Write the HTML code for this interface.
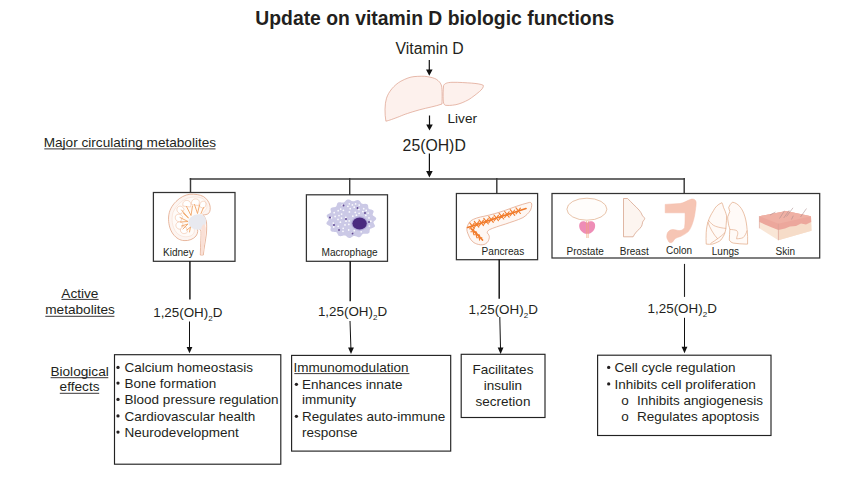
<!DOCTYPE html>
<html><head><meta charset="utf-8">
<style>
html,body{margin:0;padding:0;background:#fff;width:841px;height:477px;overflow:hidden}
svg{position:absolute;left:0;top:0;display:block}
text{font-family:"Liberation Sans",sans-serif;fill:#231f20}
.b{font-weight:bold}
</style></head><body>
<svg width="841" height="477" viewBox="0 0 841 477">
<!-- title -->
<text class="b" x="255.3" y="24.9" font-size="19.35">Update on vitamin D biologic functions</text>
<text x="395.6" y="53.6" font-size="15.8">Vitamin D</text>
<text x="447.5" y="122.6" font-size="13.6">Liver</text>
<text x="402.6" y="150.7" font-size="15.8">25(OH)D</text>
<text x="43.7" y="147.1" font-size="13.62">Major circulating metabolites</text><line x1="44.3" y1="148.9" x2="215.5" y2="148.9" stroke="#231f20" stroke-width="0.9"/>

<!-- top arrows -->
<g stroke="#111" stroke-width="1.2" fill="none">
<line x1="429.3" y1="60" x2="429.3" y2="70"/>
<line x1="429.5" y1="115.5" x2="429.5" y2="125"/>
<line x1="429.4" y1="153.5" x2="429.4" y2="172"/>
</g>
<g fill="#111">
<path d="M426,69.5 L432.6,69.5 L429.3,75.8 Z"/>
<path d="M426.2,124.5 L432.8,124.5 L429.5,130.5 Z"/>
<path d="M426.1,171 L432.7,171 L429.4,177.5 Z"/>
</g>

<!-- connector -->
<g stroke="#3a3a3a" stroke-width="1.45" fill="none">
<line x1="189.7" y1="179" x2="685" y2="179"/>
<line x1="190.5" y1="178" x2="190.5" y2="193"/>
<line x1="349.7" y1="178" x2="349.7" y2="195"/>
<line x1="496.8" y1="178" x2="496.8" y2="194"/>
<line x1="684.2" y1="178" x2="684.2" y2="194"/>
</g>

<!-- organ boxes -->
<g stroke="#333" stroke-width="1.25" fill="none">
<rect x="153.4" y="192.5" width="81.6" height="68.8"/>
<rect x="306.4" y="194.8" width="81.1" height="66.5"/>
<rect x="456.4" y="193.5" width="81.2" height="66.2"/>
<rect x="552" y="193.5" width="267.7" height="64.5"/>
</g>
<text x="163" y="255.8" font-size="10.05">Kidney</text>
<text x="321.5" y="255.9" font-size="10.1">Macrophage</text>
<text x="481.6" y="255.4" font-size="10.1">Pancreas</text>
<text x="566.5" y="254.6" font-size="10">Prostate</text>
<text x="619.8" y="254.6" font-size="10">Breast</text>
<text x="666" y="253.5" font-size="10">Colon</text>
<text x="711.8" y="254.6" font-size="10">Lungs</text>
<text x="775.5" y="254.6" font-size="10">Skin</text>

<!-- lower lines -->
<g stroke="#1a1a1a" stroke-width="1.5" fill="none">
<line x1="189.9" y1="261" x2="189.9" y2="299.5"/>
<line x1="350.2" y1="261" x2="350.2" y2="301.3"/>
<line x1="499.2" y1="259.5" x2="499.2" y2="298.7"/>
</g>
<line x1="684.5" y1="263.9" x2="684.5" y2="296.9" stroke="#222" stroke-width="1.1"/>
<g stroke="#111" stroke-width="1" fill="none">
<line x1="189.5" y1="321.5" x2="189.5" y2="348"/>
<line x1="350" y1="321" x2="350.9" y2="348"/>
<line x1="499.8" y1="317" x2="500.5" y2="348"/>
<line x1="684.5" y1="317.8" x2="684.5" y2="348"/>
</g>
<g fill="#111">
<path d="M186.6,347 L192.4,347 L189.5,353.3 Z"/>
<path d="M348.1,347.5 L353.9,347.5 L351,354 Z"/>
<path d="M497.7,347.5 L503.5,347.5 L500.6,354 Z"/>
<path d="M681.6,346.8 L687.4,346.8 L684.5,353.2 Z"/>
</g>
<text x="153.2" y="316.8" font-size="13.4">1,25(OH)<tspan font-size="8" dy="4.3">2</tspan><tspan dy="-4.3">D</tspan></text>
<text x="317.9" y="315.7" font-size="13.4">1,25(OH)<tspan font-size="8" dy="4.3">2</tspan><tspan dy="-4.3">D</tspan></text>
<text x="468.6" y="313.6" font-size="13.4">1,25(OH)<tspan font-size="8" dy="4.3">2</tspan><tspan dy="-4.3">D</tspan></text>
<text x="647.6" y="312.7" font-size="13.4">1,25(OH)<tspan font-size="8" dy="4.3">2</tspan><tspan dy="-4.3">D</tspan></text>

<text x="61.3" y="297.6" font-size="13.65">Active</text><line x1="61.5" y1="299.4" x2="98.6" y2="299.4" stroke="#231f20" stroke-width="0.9"/>
<text x="45.2" y="314.4" font-size="13.65">metabolites</text><line x1="45.3" y1="316.3" x2="114.4" y2="316.3" stroke="#231f20" stroke-width="0.9"/>
<text x="50.4" y="375.8" font-size="13.65">Biological</text><line x1="50.6" y1="377.7" x2="108.3" y2="377.7" stroke="#231f20" stroke-width="0.9"/>
<text x="59.6" y="391.3" font-size="13.65">effects</text><line x1="59.8" y1="393.3" x2="99.2" y2="393.3" stroke="#231f20" stroke-width="0.9"/>

<!-- effect boxes -->
<g stroke="#222" stroke-width="1.15" fill="none">
<rect x="114.5" y="354.7" width="166.3" height="109.5"/>
<rect x="291.6" y="355.4" width="159.1" height="95.7"/>
<rect x="461.2" y="354.3" width="83.8" height="63.2"/>
<rect x="597.6" y="355.2" width="173.4" height="80.3"/>
</g>
<g font-size="13.5">
<circle cx="118.0" cy="367.4" r="1.65" fill="#231f20"/><text x="124.6" y="372">Calcium homeostasis</text>
<circle cx="118.0" cy="383.1" r="1.65" fill="#231f20"/><text x="124.6" y="387.7">Bone formation</text>
<circle cx="118.0" cy="399.4" r="1.65" fill="#231f20"/><text x="124.6" y="404">Blood pressure regulation</text>
<circle cx="118.0" cy="415.9" r="1.65" fill="#231f20"/><text x="124.6" y="420.5">Cardiovascular health</text>
<circle cx="118.0" cy="432.1" r="1.65" fill="#231f20"/><text x="124.6" y="436.7">Neurodevelopment</text>

<text x="293.6" y="371.5">Immunomodulation</text><line x1="294.3" y1="373.6" x2="409.4" y2="373.6" stroke="#231f20" stroke-width="0.9"/>
<circle cx="296.4" cy="384.3" r="1.65" fill="#231f20"/><text x="302" y="388.9">Enhances innate</text>
<text x="302" y="404.4">immunity</text>
<circle cx="296.4" cy="416.3" r="1.65" fill="#231f20"/><text x="302" y="420.9">Regulates auto-immune</text>
<text x="302" y="437.1">response</text>

<text x="503" y="373.9" text-anchor="middle">Facilitates</text>
<text x="503" y="389.6" text-anchor="middle">insulin</text>
<text x="503" y="405.6" text-anchor="middle">secretion</text>

<circle cx="608.7" cy="367.4" r="1.65" fill="#231f20"/><text x="614.6" y="372">Cell cycle regulation</text>
<circle cx="608.7" cy="383.9" r="1.65" fill="#231f20"/><text x="614.6" y="388.5">Inhibits cell proliferation</text>
<text x="621.3" y="404.8">o</text><text x="637" y="404.8">Inhibits angiogenesis</text>
<text x="621.3" y="420.8">o</text><text x="637" y="420.8">Regulates apoptosis</text>
</g>

<!-- ICONS -->

<g id="icons">
<!-- liver -->
<g fill="#fdf1ed" stroke="#dc9e8a" stroke-width="0.7" stroke-linejoin="round">
<path d="M385.9,121.2 C384.6,114 384.6,104 386.5,98.2 C388.5,92 394,85 400.9,81.2 C406,78.5 410,77 414,76.6 C419,76.2 424,76 427.1,76.6 C431,77.2 434,78 436.2,79.2 C439,81 440.8,83 441.6,86 C442.3,90 442.2,97 442,104 C435,106.5 428,107.5 419.2,109.9 C410,112.5 404,114.5 399.6,116.5 C393,119 389,120.5 385.9,121.2 Z"/>
<path d="M443.6,85.5 C444.5,83.5 447,82.5 452,82.3 C460,82.2 466,82.8 471.6,83.1 C476,83.5 481,84 483.3,85.3 C483.8,87 482,89.5 479.4,91.6 C476,94.5 472,97.5 468.9,99.5 C464,102.2 460,103.8 455.9,104.7 C451,105.6 447,105.6 445.2,105.2 C443.8,104.5 443.4,103 443.2,100 C443,96 443,90 443.6,85.5 Z"/>
</g>
<!-- kidney -->
<g stroke-linejoin="round">
<path d="M203.1,214.9 C205,214.8 207,214.6 208.5,213.5 C210.5,211.5 210.6,208 209.8,205 C208.8,201.5 206.5,198.5 203.5,196.6 C200,194.6 195,194 190,194.2 C185,194.8 180,197.5 176,201.5 C171.5,206 169,211 168.6,217 C168.3,223 169.5,229 173,234 C176.5,238.5 180,240.3 184,240.6 C189,241 193.5,239 196,236 C198.2,233 198.2,229.5 196.6,227 C199,228 200.5,229.5 201,231.5 C201.2,236 200.6,244 200.3,255 L203.3,255 C204,248 205.6,240 206.4,234 C206.8,228 206.8,225 206.4,221.5 C205.5,218.5 204.5,216.5 203.1,214.9 Z" fill="#fdf5f1" stroke="#e0a282" stroke-width="0.75"/>
<path d="M190,197.5 C183,199 176,205.5 173,212.5 C171,219 172.2,227 176.2,232.2 C180,236.8 186,237.8 190.8,235.8 C194,234.3 195,231.2 194,228.5 C197.5,227.5 201.5,225 204,221 C205,218 204,215.5 202,214.2 C203.5,212 205.8,210 206.8,207.5 C207.5,204 205.5,200 202,198.2 C198,196.6 194,196.8 190,197.5 Z" fill="#fffbf8" stroke="#f3d3c2" stroke-width="0.45"/>
<g fill="#ffffff" stroke="#eeb898" stroke-width="0.55">
<path d="M183,206 C182,202.5 184.5,200 187.5,200.5 C190.5,201 191.5,204 190.5,207 Z"/>
<path d="M191.5,204.5 C191,200.5 193.5,198.5 196.5,199 C199.5,199.5 200,202.5 198.5,205.5 Z"/>
<path d="M199.5,206.5 C199.5,202.5 202,200.5 204.5,201.5 C207,203 206,206.5 203.5,208.5 Z"/>
<path d="M181,214 C177.5,213 176,210 177.5,207.5 C179.5,205 183,206 184,209.5 Z"/>
<path d="M180.5,222 C176.5,222 174.5,219 175.5,216 C177,213.5 180.5,213.5 182.5,216.5 Z"/>
<path d="M182,229 C178,230 175.5,227.5 176,224.5 C177,221.5 180.5,221 183,223.5 Z"/>
<path d="M187.5,232 C185,234.5 181.5,234 180.5,231 C180,228 182.5,226 186,227 Z"/>
</g>
<path d="M190.5,217.5 C193,215 197,213.8 200.5,214.3 C203.5,215 205.6,217 206,220 C206.2,223 205,226.5 203,228.5 C200,230 196.5,230 194,229 C191,227.8 188.8,225.5 188.3,223 C188,221 189,218.8 190.5,217.5 Z" fill="#e8e9ef"/>
<g stroke="#f0a060" stroke-width="0.85" fill="none" stroke-linecap="round" stroke-linejoin="round">
<path d="M186.5,206.5 L191,215.5 L192.5,206"/>
<path d="M194.5,204.5 L197.5,213.5 L199.5,205"/>
<path d="M203.5,207.5 L201,213.5"/>
<path d="M181.5,210 L188.5,218 L183.5,213.5"/>
<path d="M180,217.5 L188,221.5 L180.5,222"/>
<path d="M181.5,226 L188,224 L183,229"/>
<path d="M187,230 L190.5,227 L189.5,232"/>
</g>
<path d="M201.4,229 C201.8,238 200.8,246 200.7,254.5 L203,254.5 C203.8,246 205.4,237 205.8,229 C205.5,226 204.5,224.5 204,224 C202.5,225 201.3,227 201.4,229 Z" fill="#fae0d6" stroke="none"/>
</g>
<!-- macrophage -->
<g>
<path d="M376.16,219.00 L375.96,219.40 L375.66,219.79 L375.29,220.17 L374.87,220.54 L374.46,220.89 L374.09,221.24 L373.79,221.58 L373.59,221.93 L373.50,222.29 L373.53,222.67 L373.66,223.07 L373.88,223.50 L374.14,223.95 L374.41,224.42 L374.66,224.89 L374.84,225.36 L374.92,225.82 L374.89,226.25 L374.73,226.65 L374.44,227.00 L374.03,227.31 L373.53,227.57 L372.96,227.80 L372.37,228.00 L371.78,228.19 L371.23,228.38 L370.75,228.59 L370.36,228.84 L370.06,229.13 L369.86,229.48 L369.73,229.88 L369.67,230.32 L369.65,230.80 L369.62,231.30 L369.57,231.79 L369.46,232.26 L369.28,232.69 L369.00,233.05 L368.62,233.34 L368.15,233.55 L367.59,233.68 L366.97,233.74 L366.32,233.75 L365.66,233.72 L365.00,233.69 L364.39,233.67 L363.83,233.69 L363.33,233.77 L362.89,233.93 L362.52,234.16 L362.20,234.47 L361.91,234.84 L361.63,235.25 L361.35,235.68 L361.05,236.10 L360.71,236.48 L360.32,236.80 L359.88,237.04 L359.39,237.17 L358.85,237.21 L358.29,237.15 L357.70,237.01 L357.12,236.81 L356.53,236.58 L355.97,236.35 L355.43,236.14 L354.92,235.99 L354.43,235.92 L353.97,235.93 L353.52,236.04 L353.07,236.23 L352.62,236.49 L352.16,236.80 L351.69,237.12 L351.20,237.43 L350.69,237.69 L350.18,237.88 L349.66,237.98 L349.14,237.98 L348.63,237.87 L348.15,237.66 L347.69,237.38 L347.25,237.03 L346.84,236.66 L346.44,236.30 L346.05,235.97 L345.65,235.70 L345.24,235.50 L344.80,235.40 L344.32,235.38 L343.80,235.44 L343.23,235.56 L342.64,235.72 L342.02,235.88 L341.39,236.03 L340.77,236.13 L340.18,236.16 L339.63,236.10 L339.14,235.95 L338.72,235.71 L338.37,235.38 L338.08,234.98 L337.84,234.54 L337.64,234.08 L337.45,233.63 L337.25,233.21 L337.02,232.84 L336.72,232.53 L336.36,232.29 L335.92,232.12 L335.40,232.00 L334.82,231.93 L334.19,231.88 L333.53,231.83 L332.87,231.76 L332.25,231.64 L331.70,231.47 L331.23,231.24 L330.87,230.93 L330.62,230.56 L330.48,230.13 L330.43,229.67 L330.46,229.17 L330.54,228.67 L330.62,228.19 L330.68,227.72 L330.68,227.29 L330.60,226.91 L330.42,226.56 L330.13,226.25 L329.75,225.97 L329.28,225.71 L328.76,225.45 L328.22,225.19 L327.69,224.91 L327.22,224.60 L326.83,224.26 L326.56,223.89 L326.43,223.49 L326.43,223.07 L326.56,222.63 L326.80,222.19 L327.12,221.75 L327.48,221.32 L327.84,220.90 L328.17,220.49 L328.43,220.11 L328.59,219.73 L328.63,219.37 L328.56,219.00 L328.37,218.63 L328.11,218.25 L327.78,217.86 L327.44,217.46 L327.12,217.04 L326.86,216.62 L326.70,216.20 L326.66,215.79 L326.75,215.39 L326.97,215.02 L327.32,214.67 L327.77,214.35 L328.29,214.05 L328.84,213.78 L329.39,213.52 L329.89,213.26 L330.31,212.99 L330.64,212.71 L330.85,212.39 L330.96,212.03 L330.96,211.64 L330.90,211.21 L330.78,210.75 L330.66,210.27 L330.56,209.79 L330.52,209.32 L330.56,208.87 L330.71,208.48 L330.97,208.13 L331.35,207.85 L331.82,207.63 L332.37,207.46 L332.97,207.34 L333.59,207.25 L334.20,207.17 L334.76,207.07 L335.27,206.94 L335.69,206.76 L336.03,206.51 L336.29,206.20 L336.49,205.82 L336.63,205.39 L336.75,204.91 L336.88,204.41 L337.03,203.92 L337.22,203.45 L337.49,203.04 L337.82,202.70 L338.24,202.45 L338.72,202.29 L339.27,202.22 L339.86,202.22 L340.47,202.29 L341.08,202.38 L341.69,202.48 L342.26,202.56 L342.79,202.59 L343.28,202.54 L343.73,202.42 L344.14,202.21 L344.53,201.92 L344.90,201.57 L345.28,201.17 L345.66,200.75 L346.07,200.35 L346.51,199.99 L346.98,199.71 L347.48,199.51 L348.00,199.42 L348.54,199.44 L349.09,199.56 L349.63,199.76 L350.17,200.03 L350.69,200.33 L351.20,200.63 L351.69,200.90 L352.17,201.11 L352.64,201.25 L353.12,201.31 L353.61,201.27 L354.12,201.15 L354.64,200.97 L355.19,200.75 L355.76,200.52 L356.34,200.30 L356.92,200.14 L357.49,200.05 L358.04,200.06 L358.55,200.17 L359.03,200.38 L359.45,200.69 L359.83,201.07 L360.16,201.50 L360.46,201.96 L360.75,202.41 L361.04,202.83 L361.35,203.20 L361.69,203.49 L362.08,203.71 L362.52,203.84 L363.03,203.90 L363.59,203.91 L364.18,203.89 L364.81,203.86 L365.43,203.86 L366.03,203.89 L366.58,204.00 L367.07,204.17 L367.47,204.43 L367.77,204.77 L367.99,205.18 L368.12,205.64 L368.19,206.13 L368.23,206.64 L368.25,207.13 L368.29,207.60 L368.37,208.02 L368.53,208.38 L368.78,208.68 L369.13,208.93 L369.56,209.13 L370.08,209.30 L370.65,209.46 L371.25,209.61 L371.84,209.79 L372.39,209.99 L372.86,210.24 L373.24,210.54 L373.49,210.89 L373.62,211.28 L373.63,211.71 L373.54,212.16 L373.37,212.62 L373.17,213.09 L372.96,213.53 L372.78,213.96 L372.68,214.36 L372.67,214.74 L372.77,215.09 L372.99,215.42 L373.32,215.74 L373.73,216.05 L374.21,216.37 L374.70,216.70 L375.18,217.05 L375.61,217.42 L375.93,217.80 L376.14,218.19 L376.22,218.59 Z" fill="#cbc9e6"/>
<g fill="#ffffff" opacity="0.9"><circle cx="349.2" cy="220.9" r="0.9"/><circle cx="369.0" cy="217.9" r="0.9"/><circle cx="338.0" cy="219.4" r="0.9"/><circle cx="334.2" cy="212.7" r="0.9"/><circle cx="352.4" cy="204.9" r="0.9"/><circle cx="338.2" cy="210.7" r="0.9"/><circle cx="331.5" cy="217.8" r="0.9"/><circle cx="348.7" cy="230.0" r="0.9"/><circle cx="349.4" cy="211.9" r="0.9"/><circle cx="343.4" cy="210.3" r="0.9"/><circle cx="342.3" cy="205.2" r="0.9"/><circle cx="365.8" cy="215.4" r="0.9"/><circle cx="333.3" cy="223.1" r="0.9"/><circle cx="362.9" cy="211.6" r="0.9"/><circle cx="363.7" cy="208.7" r="0.9"/><circle cx="338.2" cy="226.4" r="0.9"/><circle cx="335.1" cy="216.5" r="0.9"/><circle cx="343.0" cy="231.3" r="0.9"/><circle cx="339.0" cy="215.6" r="0.9"/><circle cx="340.4" cy="222.2" r="0.9"/><circle cx="345.8" cy="217.5" r="0.9"/><circle cx="354.3" cy="230.7" r="0.9"/><circle cx="340.7" cy="209.1" r="0.9"/><circle cx="347.9" cy="206.3" r="0.9"/><circle cx="355.3" cy="212.4" r="0.9"/><circle cx="354.2" cy="207.2" r="0.9"/><circle cx="361.2" cy="231.8" r="0.9"/><circle cx="345.0" cy="224.9" r="0.9"/><circle cx="356.4" cy="215.2" r="0.9"/><circle cx="333.7" cy="227.0" r="0.9"/><circle cx="343.2" cy="228.3" r="0.9"/><circle cx="349.3" cy="203.8" r="0.9"/><circle cx="358.9" cy="209.4" r="0.9"/><circle cx="350.2" cy="208.7" r="0.9"/><circle cx="341.6" cy="214.1" r="0.9"/><circle cx="369.4" cy="226.1" r="0.9"/><circle cx="346.0" cy="221.2" r="0.9"/><circle cx="338.9" cy="230.2" r="0.9"/><circle cx="355.6" cy="203.9" r="0.9"/><circle cx="359.2" cy="205.1" r="0.9"/><circle cx="352.8" cy="216.2" r="0.9"/><circle cx="341.5" cy="218.1" r="0.9"/><circle cx="359.1" cy="213.3" r="0.9"/><circle cx="366.2" cy="210.4" r="0.9"/><circle cx="368.1" cy="213.1" r="0.9"/><circle cx="370.8" cy="221.2" r="0.9"/><circle cx="352.2" cy="233.0" r="0.9"/><circle cx="348.8" cy="224.4" r="0.9"/></g>
<g fill="#5e4490">
<circle cx="343.5" cy="205.5" r="0.95"/><circle cx="357.5" cy="208" r="0.95"/><circle cx="365" cy="213" r="0.95"/>
<circle cx="330" cy="217.5" r="0.95"/><circle cx="346" cy="219" r="0.95"/><circle cx="334" cy="225" r="0.95"/>
<circle cx="339" cy="230" r="0.95"/><circle cx="352.5" cy="233.5" r="0.95"/><circle cx="369" cy="222" r="0.95"/>
</g>
<ellipse cx="359.6" cy="223.5" rx="8.4" ry="7.2" fill="#b3acd9"/>
<ellipse cx="359.6" cy="223.5" rx="7.2" ry="6.1" fill="#4a2a7f"/>
</g>
<!-- pancreas -->
<g>
<path d="M531.2,202.9 C532.2,203.8 531.8,207 530.6,210 C528.5,213.5 526,215.5 523,217.6 C517,220.5 511,222 505.6,224 C499,226 493.5,227.8 489.6,229.6 C487.5,230.8 487,232 487.3,233 C488.8,234.5 489.5,236 489.3,237.5 C489,240 488,241.8 487,242.7 C485,244.5 483,245 480.5,244.8 C477.5,244.5 475.5,243.5 474,242.7 C471,240.5 469.5,238 468.5,235 C467.3,232.5 466.6,230 466.9,228 C467.5,225 469,222.5 470.7,220.9 C474,218.5 479,217.2 483.8,216.3 C491,214.8 498,212.8 505.6,210.2 C513,207.5 520,204.8 529.5,202.4 C530.2,202.3 530.8,202.5 531.2,202.9 Z" fill="#fef7f3" stroke="#e2a386" stroke-width="0.75"/>
<g stroke="#f07a2a" stroke-width="1.7" fill="none" stroke-linecap="round">
<path d="M467.6,227.5 Q492,219.5 526,208.5"/>
<path d="M471.5,229 C475,232 479,236 482.5,240"/>
</g>
<g stroke="#f27f30" stroke-width="1.15" fill="none" stroke-linecap="round" stroke-linejoin="round">
<path d="M469.8,222.9 L474.3,228.6 M469.8,228.9 L474.3,223.2"/>
<path d="M474.3,221.4 L478.8,227.1 M474.3,227.4 L478.8,221.7"/>
<path d="M479.0,219.9 L483.5,225.6 M479.0,225.9 L483.5,220.2"/>
<path d="M483.8,218.3 L488.3,224.0 M483.8,224.3 L488.3,218.6"/>
<path d="M488.8,216.7 L493.3,222.4 M488.8,222.7 L493.3,217.0"/>
<path d="M494.0,215.0 L498.4,220.7 M494.0,221.0 L498.4,215.3"/>
<path d="M499.2,213.3 L503.7,219.0 M499.2,219.3 L503.7,213.6"/>
<path d="M504.7,211.5 L509.1,217.2 M504.7,217.5 L509.1,211.8"/>
<path d="M510.2,209.7 L514.7,215.4 M510.2,215.7 L514.7,210.0"/>
<path d="M516.0,207.8 L520.4,213.5 M516.0,213.8 L520.4,208.1"/>
<path d="M470.9,231.7 L475.9,231.7 M473.5,229.1 L473.5,234.1"/>
<path d="M473.9,234.7 L478.9,234.7 M476.5,232.1 L476.5,237.1"/>
<path d="M476.9,237.7 L481.9,237.7 M479.5,235.1 L479.5,240.1"/>
</g>
</g>
<!-- prostate -->
<g>
<ellipse cx="586.9" cy="209.2" rx="20" ry="11" fill="#fffdfb" stroke="#deaa86" stroke-width="0.7"/>
<path d="M587,223 C585,220.8 582,220.8 580.3,222.5 C578.5,224.5 579,228.5 581.2,231 C583.2,233.2 585.5,234 587.2,233.8 C589,234 591.2,233.2 593.2,231 C595.4,228.5 595.8,224.5 594.1,222.5 C592.4,220.8 589,220.8 587,223 Z" fill="#ee8db6"/>
<path d="M586.4,221 L586.8,238 M588.4,221 L588.2,238" stroke="#f0a47a" stroke-width="0.65" fill="none"/>
</g>
<!-- breast -->
<path d="M623.5,198.5 L627.6,198.5 C629.5,200.5 631.5,202.3 633.1,204.1 C635.3,206.2 637.3,208.1 639.1,210.1 C640.5,211.8 641.6,213.5 642.1,215.1 C642.8,216.5 644.6,217.5 644.7,218.6 C644.7,219.8 643,220.6 642.6,222.2 C642.3,223.5 642.2,225 641.6,226.2 C640.6,227.8 639.3,229 638.1,230.2 C636.8,231.5 635.5,232.8 634.6,234.2 C634,235 633.5,236 633.1,236.8 L623.5,236.8 Z" fill="#fdf5f0" stroke="#d6a088" stroke-width="0.75" stroke-linejoin="round"/>
<!-- colon -->
<path d="M665.2,204.4 L680,203.5 C684,203 687,200.5 691.4,199.1 C694,198.6 696,200 696.1,202.3 C696.2,205 695.8,207 695.6,208.6 C695,213 694.5,217 693.5,220.1 C692.2,225 690.5,229 688.3,231.6 C685.5,234 683,235.2 680.9,236.3 C678,237.3 676,238 674.7,239 C673.5,240.5 672.8,242.4 671.5,242.6 C669.8,242.8 668.6,242 668.4,241 C667,239 666.6,237.5 666.8,235.8 C667,233.5 667.6,232.3 668.4,231.6 C669.5,230.3 671,229.6 672.6,229.5 C675,229.4 677.5,230.8 679.9,230.6 C682,230.3 684,229 684.6,227.4 C685.2,223 685.1,217 685.1,212.8 L665.2,212.8 Z" fill="#f6c5b4" stroke="#f2bba8" stroke-width="0.5"/>
<!-- lungs -->
<g fill="#fffaf7" stroke="#dea07a" stroke-width="0.65" stroke-linejoin="round">
<path d="M721.9,202.7 C717.5,204.5 715,207.5 713.5,210.6 C711,214.5 709.5,217.5 708.3,221 C707,225 706.4,229 706.2,232.6 C706,236.5 706,240.5 706.2,244.1 C708.5,244.4 710.5,244.4 712.5,244.1 C716,243 719.5,241.5 720.9,240 C722.8,237.5 724.3,235 725,232.6 C725.8,230 726.2,227.5 726.1,225.3 C726.3,222 726.8,218.5 726.6,215.8 C725.8,212.5 724.5,209.5 723.5,207.4 C723,205.5 722.6,203.8 721.9,202.7 Z"/>
<path d="M732.4,202.2 C730.8,203.5 729.5,205.5 728.7,207.4 C728.6,209 729.8,210.3 729.8,211.6 C729.5,213.5 727.9,215 727.7,216.9 C727.5,219.5 728.3,222.5 728.7,225.3 C729,226.8 729.8,228 729.8,229.4 C729.9,232.5 729.2,236.5 729.3,240 C730,241.5 731.5,242.6 733.4,243.1 C737.5,243.7 742,244 746,244.1 L747.6,244.1 C747.8,239 747.6,234 747.1,229.4 C746.7,225 746.2,221 745,216.9 C743.7,212.5 742,209 739.7,206.4 C737.5,204 735,202.5 732.4,202.2 Z"/>
</g>
<g stroke="#dea07a" stroke-width="0.6" fill="none">
<path d="M708.3,220 C711,223.5 713,225.5 715.6,226.3 C719,227.5 723,228.2 726.1,228.4"/>
<path d="M707.8,222.1 C710,228 713.5,234.5 717.7,238.9"/>
<path d="M725,232.6 C721,236.5 716,240 710.5,243.5"/>
<path d="M729.8,229.4 C732,229.6 735,229.8 736.6,230.5 C738,231.8 737.9,233.5 737.6,234.7 C737.2,236 736.6,237.5 736.6,238.9 C739,238.7 741.5,238.3 742.9,237.8 C745,236 746.3,233 747.1,230.5"/>
</g>
<!-- skin -->
<g>
<path d="M759.4,216.2 L786.2,211.1 L811,216.2 L811.5,230.8 L778.4,240.2 L759.4,228.3 Z" fill="#f9e6d6"/>
<path d="M778.4,223.7 L811,216.2 L811.5,230.8 L778.4,240.2 Z" fill="#f6dcc8"/>
<path d="M759.4,216.2 L786.2,211.1 L811,216.2 L811.2,222 L806,224.5 L801,223.5 L796,226 L790,226.5 L785,228.5 L778.4,230 L772,227.5 L766,225 L759.4,222 Z" fill="#eca79c"/>
<path d="M759.4,216.2 L786.2,211.1 L811,216.2 L778.4,223.7 Z" fill="#efb0a4"/>
<path d="M759.4,216.2 L759.4,228.3" stroke="#d89a90" stroke-width="0.6"/>
<path d="M778.4,223.7 L778.4,240.2" stroke="#dca298" stroke-width="0.7"/>
<g stroke="#a88a8c" stroke-width="0.55" fill="none">
<path d="M779.5,218.5 L784.5,210.7"/>
<path d="M783.7,218 L789.2,210.3"/>
<path d="M786.5,216.5 L793,207.8"/>
<path d="M791.5,219.5 L793.3,215.7"/>
<path d="M800.5,217 L806.5,208.5"/>
<path d="M770,215 L775.5,212"/>
</g>
</g>
</g>
</svg>
</body></html>
